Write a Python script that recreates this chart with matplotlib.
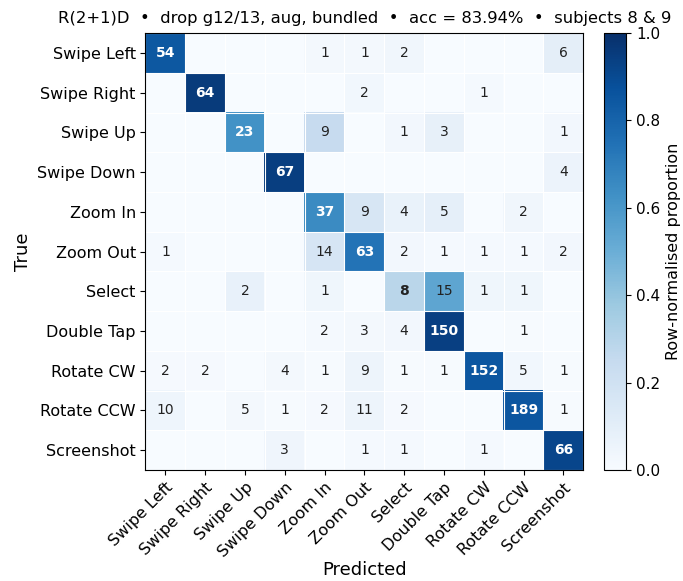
import numpy as np
import matplotlib
matplotlib.use("Agg")
import matplotlib.pyplot as plt

classes = ["Swipe Left", "Swipe Right", "Swipe Up", "Swipe Down", "Zoom In",
           "Zoom Out", "Select", "Double Tap", "Rotate CW", "Rotate CCW", "Screenshot"]

# confusion counts (rows = true, cols = predicted)
counts = np.array([
    [54, 0, 0, 0, 1, 1, 2, 0, 0, 0, 6],
    [0, 64, 0, 0, 0, 2, 0, 0, 1, 0, 0],
    [0, 0, 23, 0, 9, 0, 1, 3, 0, 0, 1],
    [0, 0, 0, 67, 0, 0, 0, 0, 0, 0, 4],
    [0, 0, 0, 0, 37, 9, 4, 5, 0, 2, 0],
    [1, 0, 0, 0, 14, 63, 2, 1, 1, 1, 2],
    [0, 0, 2, 0, 1, 0, 8, 15, 1, 1, 0],
    [0, 0, 0, 0, 2, 3, 4, 150, 0, 1, 0],
    [2, 2, 0, 4, 1, 9, 1, 1, 152, 5, 1],
    [10, 0, 5, 1, 2, 11, 2, 0, 0, 189, 1],
    [0, 0, 0, 3, 0, 1, 1, 0, 1, 0, 66],
])

title = "R(2+1)D  •  drop g12/13, aug, bundled  •  acc = 83.94%  •  subjects 8 & 9"

norm = counts / counts.sum(axis=1, keepdims=True)

fig = plt.figure(figsize=(6.83, 5.81), dpi=100)
ax = fig.add_axes([0.213, 0.191, 0.641, 0.752])
cax = fig.add_axes([0.884, 0.191, 0.033, 0.752])

im = ax.imshow(norm, cmap="Blues", vmin=0, vmax=1, aspect="auto")
n = len(classes)
ax.set_xticks(range(n))
ax.set_yticks(range(n))
ax.set_xticklabels(classes, rotation=45, ha="right", rotation_mode="anchor", fontsize=11.5)
ax.set_yticklabels(classes, fontsize=11.5)
ax.set_xticks(np.arange(-0.5, n, 1), minor=True)
ax.set_yticks(np.arange(-0.5, n, 1), minor=True)
ax.grid(which="minor", color="white", linewidth=0.8)
ax.tick_params(which="minor", length=0)
ax.set_xlabel("Predicted", fontsize=13, labelpad=1)
ax.set_ylabel("True", fontsize=13)
ax.set_title(title, fontsize=11.8, pad=7)

for i in range(n):
    for j in range(n):
        c = counts[i, j]
        if c == 0:
            continue
        col = "white" if norm[i, j] > 0.55 else "#222222"
        ax.text(j, i, str(c), ha="center", va="center", fontsize=10, color=col,
                fontweight="bold" if i == j else "normal")

cb = fig.colorbar(im, cax=cax)
cb.set_label("Row-normalised proportion", fontsize=11.5)
cb.ax.tick_params(labelsize=11)

fig.savefig("out.png", dpi=100)
